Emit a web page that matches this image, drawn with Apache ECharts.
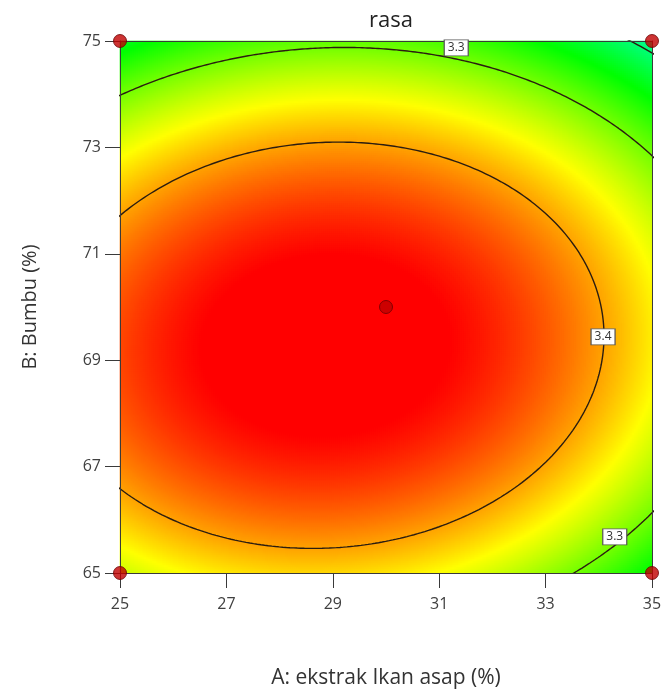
<!DOCTYPE html>
<html>
<head>
<meta charset="utf-8">
<script src="https://cdn.jsdelivr.net/npm/echarts@6/dist/echarts.min.js"></script>
<style>
html,body{margin:0;padding:0;background:#fff;}
#chart{width:670px;height:696px;}
</style>
</head>
<body>
<div id="chart"></div>
<script>
// ---- data ----
const chartTitle = 'rasa';
const xName = 'A: ekstrak Ikan asap (%)';
const yName = 'B: Bumbu (%)';
const xTickLabels = [25, 27, 29, 31, 33, 35];
const yTickLabels = [65, 67, 69, 71, 73, 75];
// quadratic response surface in coded units (A,B in [-1,1]), fitted to the contour positions of the picture
const modelTerms = ['Intercept', 'A', 'B', 'AB', 'A^2', 'B^2'];
const modelCoef = [3.4802, -0.03468, -0.04073, 0.01004, -0.07972, -0.14958];
const contourLevels = [3.2, 3.3, 3.4];
const contourLabelX = [31.32, 34.30, 34.08];
const contourLabelY = [74.87, 65.68, 69.44];
const contourLabelText = ['3.3', '3.3', '3.4'];
const designX = [25, 25, 35, 35, 30];
const designY = [65, 75, 65, 75, 70];
// colour scale stops (evenly spaced values -> colours)
const colorStopValues = [3.03, 3.14, 3.25, 3.36, 3.47, 3.58];
const colorStopColors = ['#0000ff', '#00ffff', '#00ff00', '#ffff00', '#ff0000', '#ff0000'];

// ---- helpers ----
const xMin = xTickLabels[0], xMax = xTickLabels[xTickLabels.length - 1];
const yMin = yTickLabels[0], yMax = yTickLabels[yTickLabels.length - 1];
const xMid = (xMin + xMax) / 2, xHalf = (xMax - xMin) / 2;
const yMid = (yMin + yMax) / 2, yHalf = (yMax - yMin) / 2;
function model(a, b) {
  const c = modelCoef;
  return c[0] + c[1] * a + c[2] * b + c[3] * a * b + c[4] * a * a + c[5] * b * b;
}
// heatmap grid of the surface
const N = 266;
const cats = [];
for (let i = 0; i < N; i++) cats.push(i);
const heat = [];
for (let i = 0; i < N; i++) {
  const a = -1 + (2 * i + 1) / N;
  for (let j = 0; j < N; j++) {
    const b = -1 + (2 * j + 1) / N;
    heat.push([i, j, model(a, b)]);
  }
}
// contour lines of the quadratic (elliptic) surface
const c = modelCoef;
const det = 4 * c[4] * c[5] - c[3] * c[3];
const a0 = (-c[1] * 2 * c[5] + c[2] * c[3]) / det;
const b0 = (-c[2] * 2 * c[4] + c[1] * c[3]) / det;
const fTop = model(a0, b0);
function contourPoints(level) {
  const pts = [];
  for (let k = 0; k <= 720; k++) {
    const t = k / 720 * Math.PI * 2;
    const cs = Math.cos(t), sn = Math.sin(t);
    const q = c[4] * cs * cs + c[3] * cs * sn + c[5] * sn * sn;
    const r = Math.sqrt((level - fTop) / q);
    const a = a0 + r * cs, b = b0 + r * sn;
    pts.push([xMid + xHalf * a, yMid + yHalf * b]);
  }
  return pts;
}

const G = {left: 120, top: 41, width: 532, height: 532};
const axisColor = '#3a3a3a';
const fontFam = '"Open Sans", "Noto Sans", sans-serif';

const series = [{
  type: 'heatmap',
  xAxisIndex: 0, yAxisIndex: 0,
  data: heat,
  progressive: 0,
  silent: true,
  emphasis: {disabled: true},
  z: 1
}];
contourLevels.forEach(lv => {
  series.push({
    type: 'line', xAxisIndex: 1, yAxisIndex: 1,
    data: contourPoints(lv), showSymbol: false, symbol: 'none',
    clip: true, silent: true,
    lineStyle: {color: '#2b1d10', width: 1.4},
    z: 4
  });
});
series.push({
  type: 'scatter', xAxisIndex: 1, yAxisIndex: 1,
  data: contourLabelX.map((x, i) => ({value: [x, contourLabelY[i]], name: contourLabelText[i]})),
  symbol: 'rect', symbolSize: [24, 16], silent: true,
  itemStyle: {color: '#ffffff', borderColor: '#555555', borderWidth: 1, opacity: 1},
  label: {
    show: true, position: 'inside', formatter: p => p.name,
    fontSize: 12, color: '#333', fontFamily: fontFam
  },
  z: 6
});
series.push({
  type: 'scatter', xAxisIndex: 1, yAxisIndex: 1,
  data: designX.map((x, i) => [x, designY[i]]),
  symbolSize: 13, clip: false, silent: true,
  itemStyle: {color: '#c00000', borderColor: '#6a0000', borderWidth: 1},
  z: 8
});

const option = {
  animation: false,
  backgroundColor: '#fff',
  title: {
    text: chartTitle, left: 386, top: 5, textAlign: 'center',
    textStyle: {fontFamily: fontFam, fontSize: 22, fontWeight: 'normal', color: '#222'}
  },
  visualMap: {
    show: false, type: 'continuous', seriesIndex: 0,
    min: colorStopValues[0], max: colorStopValues[colorStopValues.length - 1],
    inRange: {color: colorStopColors}
  },
  grid: [Object.assign({}, G), Object.assign({}, G)],
  xAxis: [
    {type: 'category', gridIndex: 0, data: cats, show: false, boundaryGap: true},
    {type: 'value', gridIndex: 1, min: xMin, max: xMax, position: 'bottom', z: 5,
      name: xName, nameLocation: 'middle', nameGap: 95,
      nameTextStyle: {fontFamily: fontFam, fontSize: 21, color: '#333'},
      axisLine: {show: true, lineStyle: {color: axisColor, width: 1}},
      axisTick: {show: true, inside: false, length: 15, lineStyle: {color: axisColor}, customValues: xTickLabels},
      axisLabel: {show: true, margin: 23, fontFamily: fontFam, fontSize: 16, color: '#404040', customValues: xTickLabels},
      splitLine: {show: false}},
    {type: 'value', gridIndex: 1, min: xMin, max: xMax, position: 'top', z: 5,
      axisLine: {show: true, lineStyle: {color: axisColor, width: 1}},
      axisTick: {show: false}, axisLabel: {show: false}, splitLine: {show: false}}
  ],
  yAxis: [
    {type: 'category', gridIndex: 0, data: cats, show: false, boundaryGap: true},
    {type: 'value', gridIndex: 1, min: yMin, max: yMax, position: 'left', z: 5,
      name: yName, nameLocation: 'middle', nameGap: 80,
      nameTextStyle: {fontFamily: fontFam, fontSize: 20, color: '#333'},
      axisLine: {show: true, lineStyle: {color: axisColor, width: 1}},
      axisTick: {show: true, inside: false, length: 15, lineStyle: {color: axisColor}, customValues: yTickLabels},
      axisLabel: {show: true, margin: 19, fontFamily: fontFam, fontSize: 16, color: '#404040', customValues: yTickLabels},
      splitLine: {show: false}},
    {type: 'value', gridIndex: 1, min: yMin, max: yMax, position: 'right', z: 5,
      axisLine: {show: true, lineStyle: {color: axisColor, width: 1}},
      axisTick: {show: false}, axisLabel: {show: false}, splitLine: {show: false}}
  ],
  series: series
};
const chart = echarts.init(document.getElementById('chart'), null, {renderer: 'canvas'});
chart.setOption(option);
</script>
</body>
</html>
